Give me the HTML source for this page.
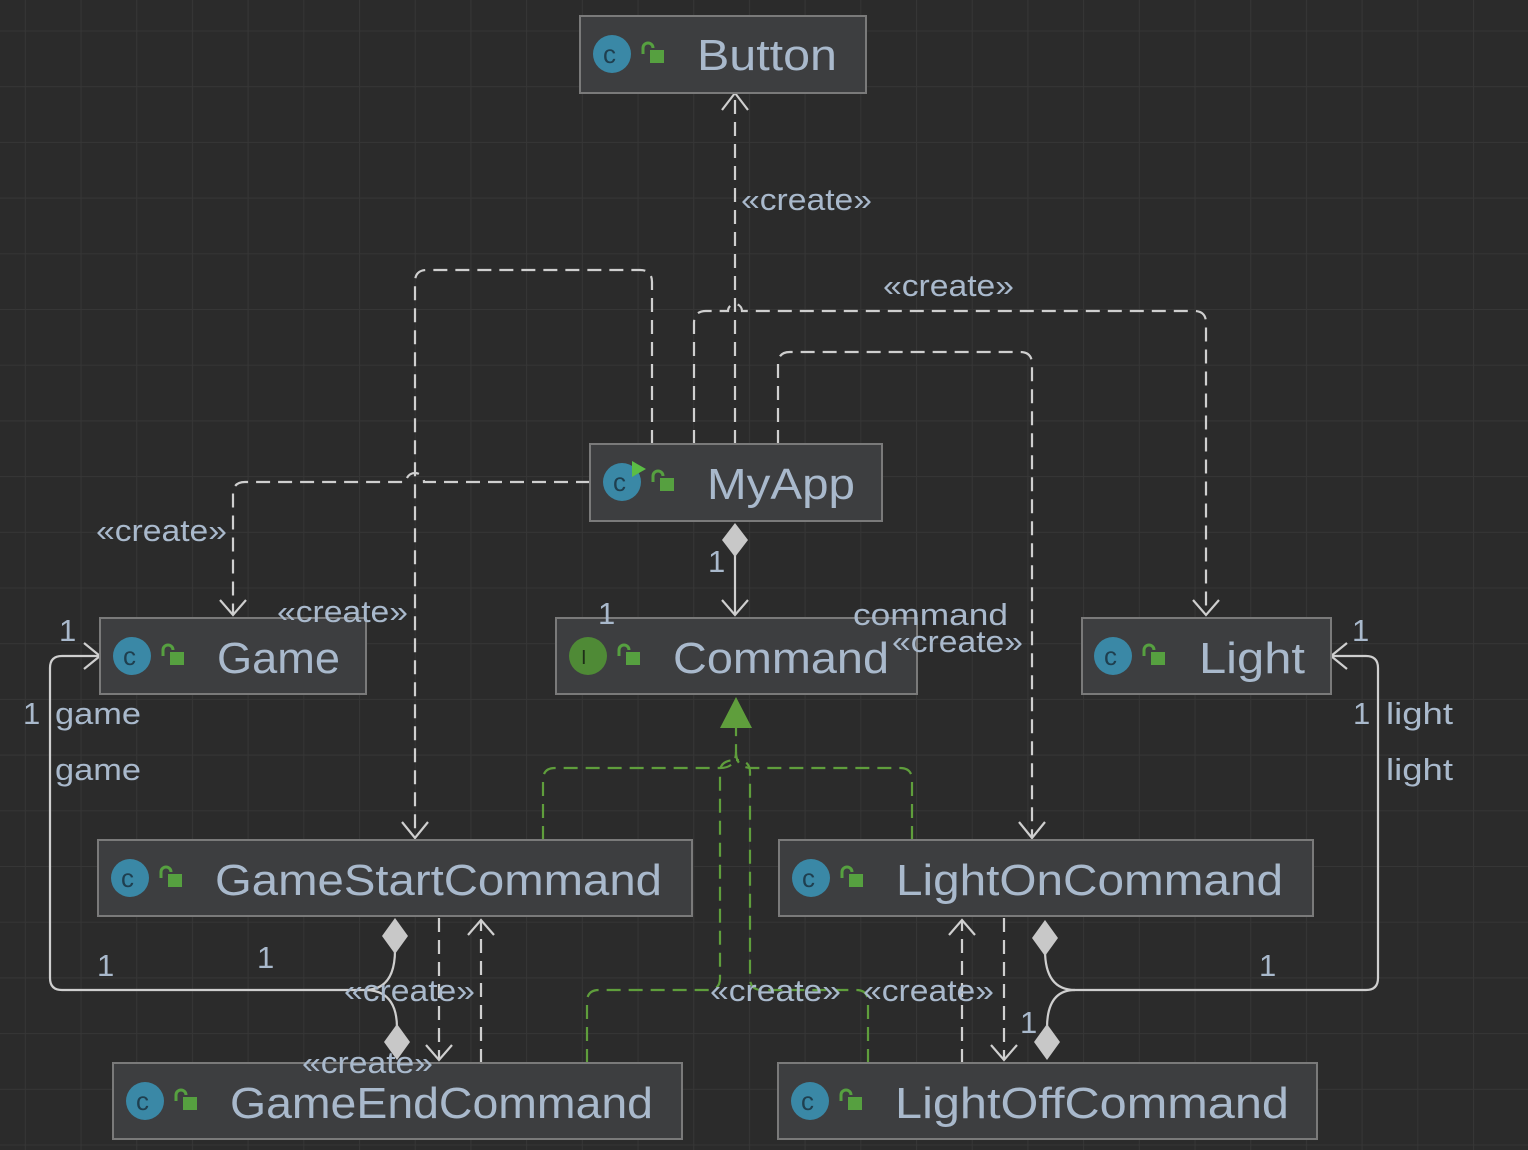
<!DOCTYPE html>
<html><head><meta charset="utf-8"><style>
html,body{margin:0;padding:0;background:#2b2b2b;}
svg{display:block;}
text{font-family:"Liberation Sans","DejaVu Sans",sans-serif;fill:#a9b9cc;}
</style></head><body>
<svg width="1528" height="1150" viewBox="0 0 1528 1150" xmlns="http://www.w3.org/2000/svg">
<defs>
<pattern id="g" x="24.8" y="30.5" width="55.7" height="55.7" patternUnits="userSpaceOnUse">
<path d="M0 0H55.7M0 0V55.7" stroke="#363636" stroke-width="2" fill="none"/>
</pattern>
<g id="ci"><circle r="19" fill="#3a88a6"/><text x="-9" y="9" font-size="26" style="fill:#1f3f4f">c</text></g>
<g id="lk"><rect x="0" y="0" width="14" height="13" fill="#56a040"/><path d="M-7 4V-2a5 5 0 0 1 10 0" stroke="#56a040" stroke-width="3" fill="none"/></g>
</defs>
<rect width="1528" height="1150" fill="#2b2b2b"/>
<rect width="1528" height="1150" fill="url(#g)"/>

<g fill="none" stroke="#cfcfcf" stroke-width="2.2">
<g stroke-dasharray="14 8">
<path d="M735 444V93"/>
<path d="M590 482H424a9 9 0 0 0 -18 0H245q-12 0 -12 12V615"/>
<path d="M652 444V282q0 -12 -12 -12H427q-12 0 -12 12V838"/>
<path d="M694 444V323q0 -12 12 -12H728a7 7 0 0 1 14 0H1194q12 0 12 12V615"/>
<path d="M778 444V364q0 -12 12 -12H1020q12 0 12 12V838"/>
<path d="M439 918V1060"/>
<path d="M481 1063V920"/>
<path d="M1004 918V1060"/>
<path d="M962 1063V920"/>
</g>
<path d="M722 110L735 93L748 110"/>
<path d="M220 600L233 615L246 600"/>
<path d="M402 822L415 838L428 822"/>
<path d="M1193 600L1206 615L1219 600"/>
<path d="M1019 822L1032 838L1045 822"/>
<path d="M722 600L735 615L748 600"/>
<path d="M426 1045L439 1060L452 1045"/>
<path d="M468 935L481 920L494 935"/>
<path d="M991 1045L1004 1060L1017 1045"/>
<path d="M949 935L962 920L975 935"/>
<path d="M84 643L100 656L84 669"/>
<path d="M1347 643L1331 656L1347 669"/>
<path d="M735 555V615"/>
<path d="M395 950q0 40 -30 40H62q-12 0 -12 -12V668q0 -12 12 -12H100"/>
<path d="M397 1028q0 -38 -32 -38"/>
<path d="M1045 950q0 40 30 40H1366q12 0 12 -12V668q0 -12 -12 -12H1331"/>
<path d="M1047 1028q0 -38 28 -38"/>
</g>
<g fill="#c8c8c8">
<path d="M735 523L748 540L735 557L722 540Z"/>
<path d="M395 918L408 936L395 954L382 936Z"/>
<path d="M397 1024L410 1042L397 1060L384 1042Z"/>
<path d="M1045 920L1058 938L1045 956L1032 938Z"/>
<path d="M1047 1024L1060 1042L1047 1060L1034 1042Z"/>
</g>
<g fill="none" stroke="#5f9e3c" stroke-width="2.2" stroke-dasharray="14 8">
<path d="M543 840V780q0 -12 12 -12H720q16 0 16 -16V728"/>
<path d="M912 840V780q0 -12 -12 -12H752q-16 0 -16 -16"/>
<path d="M587 1063V1002q0 -12 12 -12H708q12 0 12 -12V772q0 -12 16 -12"/>
<path d="M868 1063V1002q0 -12 -12 -12H762q-12 0 -12 -12V772q0 -12 -14 -12"/>
</g>
<path d="M736 697L752 728H720Z" fill="#5f9e3c"/>

<g stroke="#7a7a7a" stroke-width="2" fill="#3d3e40">
<rect x="580" y="16" width="286" height="77"/>
<rect x="590" y="444" width="292" height="77"/>
<rect x="100" y="618" width="266" height="76"/>
<rect x="556" y="618" width="361" height="76"/>
<rect x="1082" y="618" width="249" height="76"/>
<rect x="98" y="840" width="594" height="76"/>
<rect x="779" y="840" width="534" height="76"/>
<rect x="113" y="1063" width="569" height="76"/>
<rect x="778" y="1063" width="539" height="76"/>
</g>
<use href="#ci" x="612" y="54"/><use href="#lk" x="650" y="50"/>
<use href="#ci" x="622" y="482"/><path d="M632 461L646 469L632 477Z" fill="#5bbd45"/><use href="#lk" x="660" y="478"/>
<use href="#ci" x="132" y="656"/><use href="#lk" x="170" y="652"/>
<circle cx="588" cy="656" r="19" fill="#4f8a36"/><text x="581" y="664" font-size="20" style="fill:#1e2e18">I</text><use href="#lk" x="626" y="652"/>
<use href="#ci" x="1113" y="656"/><use href="#lk" x="1151" y="652"/>
<use href="#ci" x="130" y="878"/><use href="#lk" x="168" y="874"/>
<use href="#ci" x="811" y="878"/><use href="#lk" x="849" y="874"/>
<use href="#ci" x="145" y="1101"/><use href="#lk" x="183" y="1097"/>
<use href="#ci" x="810" y="1101"/><use href="#lk" x="848" y="1097"/>

<g font-size="44" lengthAdjust="spacingAndGlyphs">
<text x="697" y="70" textLength="140" lengthAdjust="spacingAndGlyphs">Button</text>
<text x="707" y="499" textLength="148" lengthAdjust="spacingAndGlyphs">MyApp</text>
<text x="217" y="673" textLength="123" lengthAdjust="spacingAndGlyphs">Game</text>
<text x="673" y="673" textLength="216" lengthAdjust="spacingAndGlyphs">Command</text>
<text x="1199" y="673" textLength="106" lengthAdjust="spacingAndGlyphs">Light</text>
<text x="215" y="895" textLength="447" lengthAdjust="spacingAndGlyphs">GameStartCommand</text>
<text x="896" y="895" textLength="387" lengthAdjust="spacingAndGlyphs">LightOnCommand</text>
<text x="230" y="1118" textLength="423" lengthAdjust="spacingAndGlyphs">GameEndCommand</text>
<text x="895" y="1118" textLength="394" lengthAdjust="spacingAndGlyphs">LightOffCommand</text>
</g>
<g font-size="31">
<text x="741" y="210" textLength="131" lengthAdjust="spacingAndGlyphs">«create»</text>
<text x="883" y="296" textLength="131" lengthAdjust="spacingAndGlyphs">«create»</text>
<text x="96" y="541" textLength="131" lengthAdjust="spacingAndGlyphs">«create»</text>
<text x="277" y="622" textLength="131" lengthAdjust="spacingAndGlyphs">«create»</text>
<text x="892" y="652" textLength="131" lengthAdjust="spacingAndGlyphs">«create»</text>
<text x="853" y="625" textLength="155" lengthAdjust="spacingAndGlyphs">command</text>
<text x="708" y="572">1</text>
<text x="598" y="624">1</text>
<text x="59" y="641">1</text>
<text x="23" y="724">1</text>
<text x="55" y="724" textLength="86" lengthAdjust="spacingAndGlyphs">game</text>
<text x="55" y="780" textLength="86" lengthAdjust="spacingAndGlyphs">game</text>
<text x="1352" y="641">1</text>
<text x="1353" y="724">1</text>
<text x="1386" y="724" textLength="67" lengthAdjust="spacingAndGlyphs">light</text>
<text x="1386" y="780" textLength="67" lengthAdjust="spacingAndGlyphs">light</text>
<text x="97" y="976">1</text>
<text x="257" y="968">1</text>
<text x="1259" y="976">1</text>
<text x="1020" y="1033">1</text>
<text x="344" y="1001" textLength="131" lengthAdjust="spacingAndGlyphs">«create»</text>
<text x="302" y="1073" textLength="131" lengthAdjust="spacingAndGlyphs">«create»</text>
<text x="710" y="1001" textLength="131" lengthAdjust="spacingAndGlyphs">«create»</text>
<text x="863" y="1001" textLength="131" lengthAdjust="spacingAndGlyphs">«create»</text>
</g>
</svg>
</body></html>
